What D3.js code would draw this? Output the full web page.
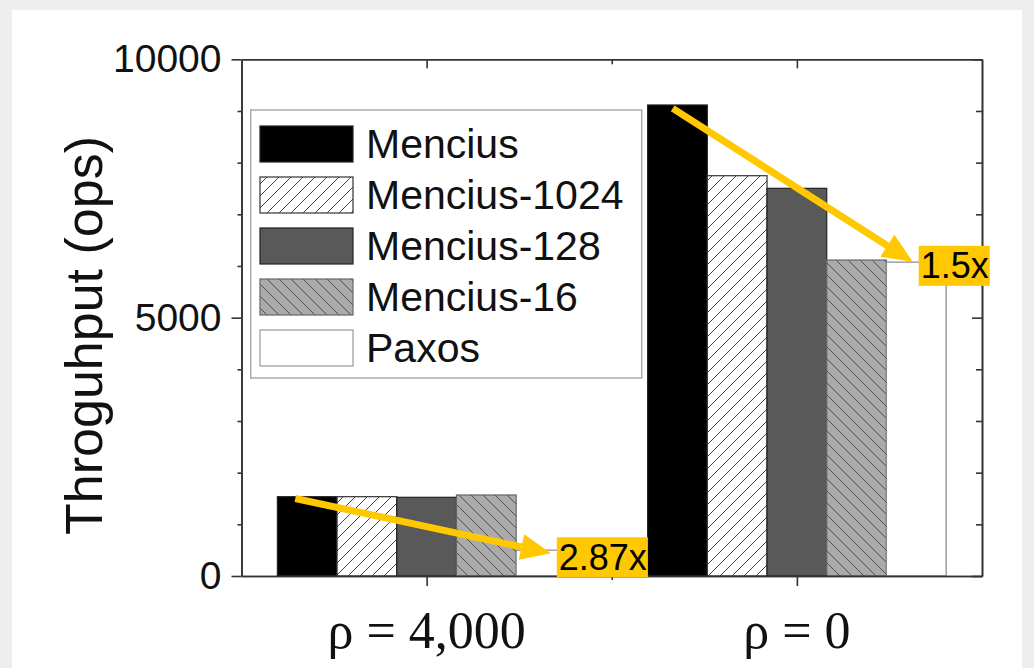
<!DOCTYPE html>
<html><head><meta charset="utf-8">
<script src="https://cdn.jsdelivr.net/npm/d3@7"></script>
<style>html,body{margin:0;padding:0;background:#eeeeee;}svg{display:block;}</style>
</head><body>
<svg id="chart" width="1034" height="668"></svg>
<script>
const groups = ["ρ = 4,000", "ρ = 0"];
const series = ["Mencius", "Mencius-1024", "Mencius-128", "Mencius-16", "Paxos"];
const mencius = [1535, 9116];
const mencius1024 = [1535, 7747];
const mencius128 = [1523, 7503];
const mencius16 = [1568, 6115];
const paxos = [500, 6075];
const yMajorTicks = [0, 5000, 10000];
const yMinorTicks = [1000, 2000, 3000, 4000, 6000, 7000, 8000, 9000];
const speedups = [
  {label: "2.87x", group: 0, fromFrac: 0.3, fromVal: 1500, toFrac: 0.58, toVal: 440},
  {label: "1.5x", group: 1, fromFrac: 0.42, fromVal: 9050, toFrac: 0.44, toVal: 6080}
];

const values = [mencius, mencius1024, mencius128, mencius16, paxos];
const data = [];
groups.forEach((g, gi) => series.forEach((s, si) => data.push({group: g, series: s, value: values[si][gi]})));

const svg = d3.select("#chart");
svg.append("rect").attr("x", 12).attr("y", 10).attr("width", 1010).attr("height", 658).attr("fill", "#ffffff");

const defs = svg.append("defs");
function hatch(id, bg, stroke, dir) {
  const s = 12;
  const p = defs.append("pattern").attr("id", id).attr("patternUnits", "userSpaceOnUse")
    .attr("width", s).attr("height", s);
  p.append("rect").attr("width", s).attr("height", s).attr("fill", bg);
  const d = dir === "/" ? `M-1,1 l2,-2 M0,${s} l${s},-${s} M${s-1},${s+1} l2,-2` : `M-1,${s-1} l2,2 M0,0 l${s},${s} M${s-1},-1 l2,2`;
  p.append("path").attr("d", d).attr("stroke", stroke).attr("stroke-width", 1);
}
hatch("h1024", "#ffffff", "#444444", "/");
hatch("h16", "#aaaaaa", "#505050", "\\");

const fills = {"Mencius": "#000000", "Mencius-1024": "url(#h1024)", "Mencius-128": "#595959", "Mencius-16": "url(#h16)", "Paxos": "#ffffff"};
const strokes = {"Mencius": "#222", "Mencius-1024": "#333", "Mencius-128": "#222", "Mencius-16": "#666", "Paxos": "#888"};

const L = 241.5, R = 982, T = 59.3, B = 576;
const x0 = d3.scaleBand().domain(groups).range([L, R]).padding(0);
const inner = 298.5;
const off = (x0.bandwidth() - inner) / 2;
const x1 = d3.scaleBand().domain(series).range([off, off + inner]).padding(0);
const y = d3.scaleLinear().domain([0, 10000]).range([B, T]);

// bars
svg.append("g").selectAll("rect").data(data).join("rect")
  .attr("x", d => x0(d.group) + x1(d.series))
  .attr("y", d => y(d.value))
  .attr("width", x1.bandwidth())
  .attr("height", d => y(0) - y(d.value))
  .attr("fill", d => fills[d.series])
  .attr("stroke", d => strokes[d.series])
  .attr("stroke-width", 1.2);

// axes
const axisColor = "#333";
function styleAxis(g) {
  g.selectAll("path.domain").attr("stroke", axisColor).attr("stroke-width", 1.6);
  g.selectAll(".tick line").attr("stroke", axisColor).attr("stroke-width", 1.6);
  g.selectAll("text").attr("font-family", "Liberation Sans, Arial, sans-serif").attr("fill", "#111");
}
const groupCenter = g => x0(g) + x0.bandwidth() / 2;
const xPos = d3.scaleLinear().domain([0, 4]).range([L, R]);
// bottom
svg.append("g").attr("transform", `translate(0,${B})`)
  .call(d3.axisBottom(xPos).tickValues([1, 3]).tickSize(10).tickFormat("").tickSizeOuter(0))
  .call(styleAxis);
svg.append("g").attr("transform", `translate(0,${B})`)
  .call(d3.axisBottom(xPos).tickValues([2]).tickSize(4).tickFormat("").tickSizeOuter(0))
  .call(styleAxis);
// top
svg.append("g").attr("transform", `translate(0,${T})`)
  .call(d3.axisBottom(xPos).tickValues([1, 3]).tickSize(9).tickFormat("").tickSizeOuter(0))
  .call(styleAxis);
svg.append("g").attr("transform", `translate(0,${T})`)
  .call(d3.axisBottom(xPos).tickValues([2]).tickSize(5).tickFormat("").tickSizeOuter(0))
  .call(styleAxis);
// left
svg.append("g").attr("transform", `translate(${L},0)`)
  .call(d3.axisLeft(y).tickValues(yMajorTicks).tickSize(10).tickPadding(10).tickFormat(d3.format("d")).tickSizeOuter(0))
  .call(styleAxis)
  .call(g => g.selectAll("text").attr("font-size", 39));
svg.append("g").attr("transform", `translate(${L},0)`)
  .call(d3.axisLeft(y).tickValues(yMinorTicks).tickSize(4).tickFormat("").tickSizeOuter(0))
  .call(styleAxis);
// right
svg.append("g").attr("transform", `translate(${R},0)`)
  .call(d3.axisLeft(y).tickValues(yMajorTicks).tickSize(10).tickFormat("").tickSizeOuter(0))
  .call(styleAxis);
svg.append("g").attr("transform", `translate(${R},0)`)
  .call(d3.axisLeft(y).tickValues(yMinorTicks).tickSize(6).tickFormat("").tickSizeOuter(0))
  .call(styleAxis);

// group labels
svg.append("g").selectAll("text").data(groups).join("text")
  .attr("x", d => groupCenter(d)).attr("y", 648)
  .attr("text-anchor", "middle")
  .attr("font-family", "Liberation Serif, Times New Roman, serif")
  .attr("font-size", 52).attr("fill", "#111")
  .text(d => d);

// y title
svg.append("text").attr("transform", "translate(102,335.5) rotate(-90)")
  .attr("text-anchor", "middle")
  .attr("font-family", "Liberation Sans, Arial, sans-serif")
  .attr("font-size", 52).attr("fill", "#111")
  .text("Throguhput (ops)");

// legend
const lg = svg.append("g");
lg.append("rect").attr("x", 250.7).attr("y", 110).attr("width", 391).attr("height", 268)
  .attr("fill", "#fff").attr("stroke", "#aaa").attr("stroke-width", 1.5);
const ly = d3.scalePoint().domain(series).range([144, 348]);
const items = lg.selectAll("g.item").data(series).join("g").attr("class", "item");
items.append("rect").attr("x", 260).attr("y", d => ly(d) - 18).attr("width", 93).attr("height", 36)
  .attr("fill", d => fills[d]).attr("stroke", d => d === "Paxos" ? "#999" : strokes[d]).attr("stroke-width", 1.2);
items.append("text").attr("x", 366).attr("y", d => ly(d) + 14)
  .attr("font-family", "Liberation Sans, Arial, sans-serif")
  .attr("font-size", 41).attr("fill", "#111").text(d => d);

// annotations
const yellow = "#ffc800";
const ann = svg.append("g");
speedups.forEach(a => {
  const g = groups[a.group];
  const xs = x0(g) + x1("Mencius") + a.fromFrac * x1.bandwidth();
  const ys = y(a.fromVal);
  const xt = x0(g) + x1("Paxos") + a.toFrac * x1.bandwidth();
  const yt = y(a.toVal);
  const ang = Math.atan2(yt - ys, xt - xs);
  const headLen = 30, headHalf = 13;
  const bx = xt - headLen * Math.cos(ang), by = yt - headLen * Math.sin(ang);
  ann.append("line").attr("x1", xs).attr("y1", ys).attr("x2", bx).attr("y2", by)
    .attr("stroke", yellow).attr("stroke-width", 7);
  const px = -Math.sin(ang), py = Math.cos(ang);
  ann.append("path").attr("d", `M${xt},${yt} L${bx + px * headHalf},${by + py * headHalf} L${bx - px * headHalf},${by - py * headHalf} Z`)
    .attr("fill", yellow);
  const t = ann.append("text").attr("x", xt + 8).attr("y", yt + 4)
    .attr("dy", "0.35em")
    .attr("font-family", "Liberation Sans, Arial, sans-serif")
    .attr("font-size", 36).attr("fill", "#000").text(a.label);
  const bb = t.node().getBBox();
  ann.insert("rect", "text").attr("x", bb.x - 2).attr("y", yt + 4 - 20).attr("width", bb.width + 3).attr("height", 40)
    .attr("fill", yellow);
});
</script>
</body></html>
